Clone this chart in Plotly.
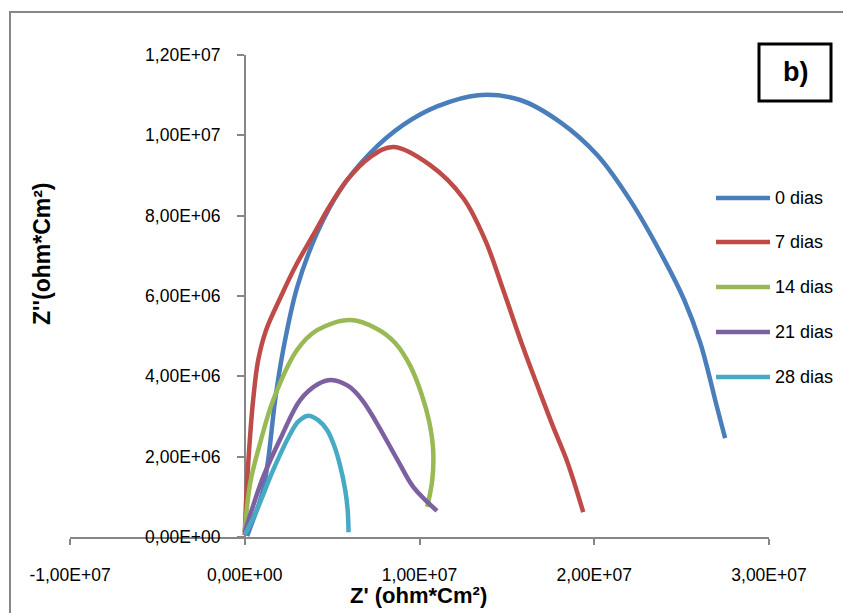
import plotly.graph_objects as go

# Nyquist data: Z' (real part) and Z'' (imaginary part), ohm*cm^2
series_names = ["0 dias", "7 dias", "14 dias", "21 dias", "28 dias"]
series_colors = ["#4A7EBB", "#BE4B48", "#98B954", "#7D60A0", "#46AAC5"]

zre_0 = [1.4e5, 3.7e5, 6.9e5, 1.05e6, 1.34e6, 1.74e6, 2.20e6, 3.00e6, 4.14e6, 5.46e6,
         7.18e6, 9.07e6, 1.101e7, 1.336e7, 1.576e7, 1.805e7, 2.017e7, 2.206e7, 2.395e7,
         2.515e7, 2.607e7, 2.664e7, 2.692e7, 2.749e7]
zim_0 = [2.5e4, 3.0e5, 6.7e5, 1.17e6, 1.92e6, 3.41e6, 4.66e6, 6.22e6, 7.57e6, 8.64e6,
         9.56e6, 1.026e7, 1.072e7, 1.100e7, 1.088e7, 1.033e7, 9.51e6, 8.38e6, 6.95e6,
         5.90e6, 4.83e6, 3.91e6, 3.41e6, 2.46e6]

zre_7 = [0.0, 8.0e4, 2.5e5, 4.8e5, 7.7e5, 1.22e6, 2.03e6, 2.94e6, 3.92e6, 4.89e6, 5.86e6,
         7.18e6, 8.50e6, 1.061e7, 1.250e7, 1.376e7, 1.479e7, 1.588e7, 1.691e7, 1.765e7,
         1.846e7, 1.937e7]
zim_7 = [5.0e4, 9.2e5, 2.17e6, 3.41e6, 4.41e6, 5.15e6, 5.95e6, 6.77e6, 7.52e6, 8.26e6, 8.89e6,
         9.46e6, 9.71e6, 9.26e6, 8.44e6, 7.39e6, 6.15e6, 4.78e6, 3.58e6, 2.74e6,
         1.87e6, 6.2e5]

zre_14 = [0.0, 3.1e5, 8.8e5, 1.63e6, 3.00e6, 4.14e6, 6.03e6, 7.58e6, 8.61e6, 9.47e6,
          1.010e7, 1.056e7, 1.078e7, 1.073e7, 1.044e7]
zim_14 = [1.2e5, 1.34e6, 2.34e6, 3.41e6, 4.66e6, 5.15e6, 5.40e6, 5.18e6, 4.83e6, 4.26e6,
          3.58e6, 2.86e6, 2.17e6, 1.42e6, 7.5e5]

zre_21 = [0.0, 3.1e5, 1.05e6, 2.14e6, 3.17e6, 4.20e6, 4.95e6, 5.92e6, 6.72e6, 7.52e6,
          8.78e6, 9.64e6, 1.100e7]
zim_21 = [1.2e5, 5.5e5, 1.49e6, 2.54e6, 3.41e6, 3.81e6, 3.91e6, 3.76e6, 3.41e6, 2.86e6,
          1.89e6, 1.25e6, 6.5e5]

zre_28 = [0.0, 6.9e5, 1.63e6, 2.55e6, 3.06e6, 3.63e6, 4.20e6, 4.72e6, 5.12e6, 5.46e6,
          5.75e6, 5.89e6, 5.94e6]
zim_28 = [5.0e4, 6.7e5, 1.67e6, 2.52e6, 2.87e6, 3.02e6, 2.91e6, 2.66e6, 2.27e6, 1.77e6,
          1.17e6, 6.7e5, 1.2e5]

series_x = [zre_0, zre_7, zre_14, zre_21, zre_28]
series_y = [zim_0, zim_7, zim_14, zim_21, zim_28]

# Axis ticks
x_tickvals = [-1e7, 0, 1e7, 2e7, 3e7]
x_ticktext = ["-1,00E+07", "0,00E+00", "1,00E+07", "2,00E+07", "3,00E+07"]
y_tickvals = [0, 2e6, 4e6, 6e6, 8e6, 1e7, 1.2e7]
y_ticktext = ["0,00E+00", "2,00E+06", "4,00E+06", "6,00E+06", "8,00E+06", "1,00E+07", "1,20E+07"]

# Page geometry (pixels)
W, H = 843, 613
L, R, T, B = 70, 74, 55, 76
PW, PH = W - L - R, H - T - B


def px(x):
    return (x - L) / PW


def py(y):
    return (H - B - y) / PH


FONT = "Liberation Sans, Arial, sans-serif"
AXIS_GRAY = "#868686"
LINE_W = 4.5

fig = go.Figure()
for name, color, xs, ys in zip(series_names, series_colors, series_x, series_y):
    fig.add_trace(go.Scatter(
        x=xs, y=ys, mode="lines", name=name,
        line=dict(color=color, width=LINE_W, shape="spline", smoothing=1.0),
        showlegend=False,
    ))

shapes = []
annotations = []

# Legend drawn on the right with longer line keys
legend_y = [198, 242, 287, 332, 377]
for name, color, yy in zip(series_names, series_colors, legend_y):
    shapes.append(dict(type="line", xref="paper", yref="paper",
                       x0=px(716), x1=px(770), y0=py(yy), y1=py(yy),
                       line=dict(color=color, width=LINE_W)))
    annotations.append(dict(text=name, xref="paper", yref="paper",
                            x=px(773), y=py(yy), xanchor="left", yanchor="middle",
                            showarrow=False, font=dict(family=FONT, size=18, color="#000000")))

# Panel label box "b)"
shapes.append(dict(type="rect", xref="paper", yref="paper",
                   x0=px(759), x1=px(831), y0=py(101), y1=py(44),
                   line=dict(color="#000000", width=3), fillcolor="#FFFFFF"))
annotations.append(dict(text="<b>b)</b>", xref="paper", yref="paper",
                        x=px(795), y=py(72), xanchor="center", yanchor="middle",
                        showarrow=False, font=dict(family=FONT, size=27, color="#000000")))

# Outer chart frame
shapes.append(dict(type="rect", xref="paper", yref="paper",
                   x0=px(10), x1=px(860), y0=py(630), y1=py(12),
                   line=dict(color="#878787", width=2), layer="below"))

# Axis titles
annotations.append(dict(text="<b>Z' (ohm*Cm²)</b>", xref="paper", yref="paper",
                        x=px(418), y=py(595), xanchor="center", yanchor="middle",
                        showarrow=False, font=dict(family=FONT, size=22, color="#000000")))
annotations.append(dict(text="<b>Z''(ohm*Cm²)</b>", xref="paper", yref="paper",
                        x=px(42), y=py(254), xanchor="center", yanchor="middle",
                        textangle=-90, showarrow=False,
                        font=dict(family=FONT, size=23, color="#000000")))

fig.update_layout(
    width=W, height=H,
    margin=dict(l=L, r=R, t=T, b=B, autoexpand=False),
    paper_bgcolor="#FFFFFF", plot_bgcolor="#FFFFFF",
    showlegend=False,
    shapes=shapes, annotations=annotations,
    xaxis=dict(range=[-1e7, 3e7], tickvals=x_tickvals, ticktext=x_ticktext,
               showgrid=False, zeroline=False, showline=True,
               linecolor=AXIS_GRAY, linewidth=1.5,
               ticks="outside", ticklen=6, tickwidth=1.5, tickcolor=AXIS_GRAY,
               ticklabelstandoff=15,
               tickfont=dict(family=FONT, size=17.5, color="#000000"),
               layer="below traces"),
    yaxis=dict(range=[0, 1.2e7], tickvals=y_tickvals, ticktext=y_ticktext,
               anchor="free", position=0.25,
               showgrid=False, zeroline=False, showline=True,
               linecolor=AXIS_GRAY, linewidth=1.5,
               ticks="outside", ticklen=7, tickwidth=1.5, tickcolor=AXIS_GRAY,
               ticklabelstandoff=13,
               tickfont=dict(family=FONT, size=17.5, color="#000000"),
               layer="below traces"),
)

fig.write_html("out.html")
